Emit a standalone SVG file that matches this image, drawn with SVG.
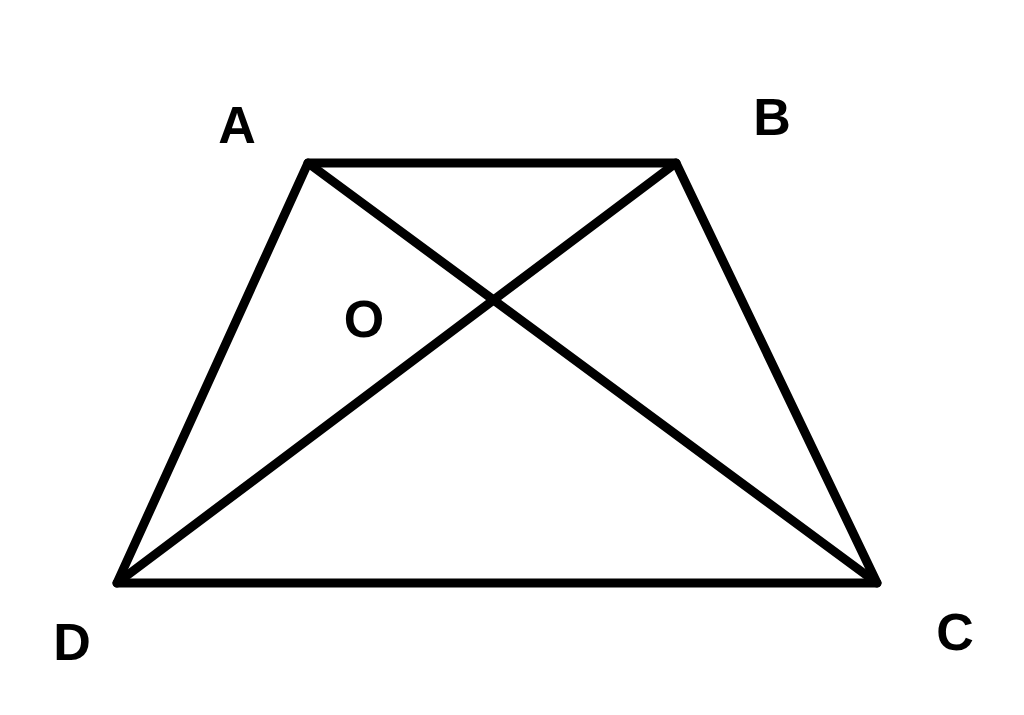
<svg xmlns="http://www.w3.org/2000/svg" width="1024" height="715" viewBox="0 0 1024 715">
<style>
.ln{stroke:#000;stroke-width:9;stroke-linecap:round;stroke-linejoin:round;fill:none}
.lb{font-family:"Liberation Sans",Arial,sans-serif;font-weight:bold;font-size:52px;fill:#000;text-anchor:middle}
</style>
<rect width="1024" height="715" fill="#fff"/>
<g id="connectors">
<polygon class="ln" points="308,163 676,163 877,583 117,583"/>
<line class="ln" x1="308" y1="163" x2="877" y2="583"/>
<line class="ln" x1="676" y1="163" x2="117" y2="583"/>
</g>
<g id="A"><text class="lb" x="237" y="143">A</text></g>
<g id="B"><text class="lb" x="772" y="135">B</text></g>
<g id="O"><text class="lb" x="364" y="337">O</text></g>
<g id="C"><text class="lb" x="955" y="650">C</text></g>
<g id="D"><text class="lb" x="72" y="660">D</text></g>
</svg>
